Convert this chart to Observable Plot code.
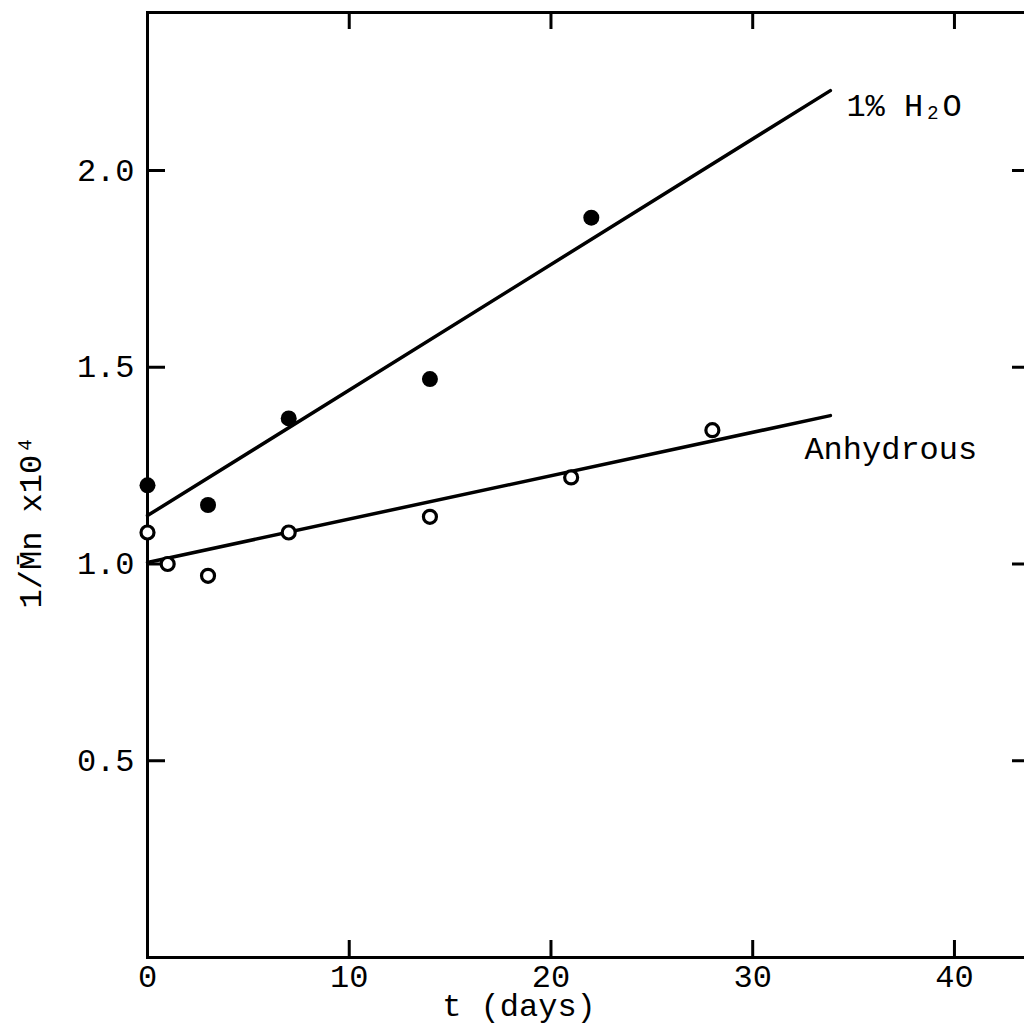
<!DOCTYPE html>
<html>
<head>
<meta charset="utf-8">
<script src="https://cdn.jsdelivr.net/npm/d3@7"></script>
<script src="https://cdn.jsdelivr.net/npm/@observablehq/plot@0.6"></script>
<style>
  html, body { margin: 0; padding: 0; background: #fff; overflow: hidden; }
  #chart svg { display: block; }
</style>
</head>
<body>
<div id="chart"></div>
<script>
// Measured degradation: 1/Mn (x10^4) against storage time
const daysWet = [0, 3, 7, 14, 22];
const valuesWet = [1.20, 1.15, 1.37, 1.47, 1.88];

const daysDry = [0, 1, 3, 7, 14, 21, 28];
const valuesDry = [1.08, 1.00, 0.97, 1.08, 1.12, 1.22, 1.34];

// Fitted straight lines (end points)
const fitDays = [0, 33.85];
const fitWet = [1.123, 2.203];
const fitDry = [1.004, 1.377];

const seriesNames = ["1% H\u2082O", "Anhydrous"];
const xTicks = [0, 10, 20, 30, 40];
const yTicks = [0.5, 1.0, 1.5, 2.0];
const xLabel = "t (days)";
const yLabel = "1/M\u0304n x10\u2074";

const wetPts = daysWet.map((d, i) => ({t: d, v: valuesWet[i]}));
const dryPts = daysDry.map((d, i) => ({t: d, v: valuesDry[i]}));
const wetLine = fitDays.map((d, i) => ({t: d, v: fitWet[i]}));
const dryLine = fitDays.map((d, i) => ({t: d, v: fitDry[i]}));

const font = "'Courier New', 'Liberation Mono', monospace";

const chart = Plot.plot({
  width: 1040,
  height: 1026,
  marginLeft: 147,
  marginRight: 10,
  marginTop: 12,
  marginBottom: 69,
  style: {fontFamily: font, fontSize: "32px", color: "#000", background: "#fff", maxWidth: "none"},
  x: {domain: [0, 43.77]},
  y: {domain: [0, 2.4015]},
  marks: [
    Plot.frame({stroke: "#000", strokeWidth: 3}),
    // inward ticks on all four sides
    Plot.ruleX(xTicks.filter(d => d > 0), {x: d => d, insetTop: 928, stroke: "#000", strokeWidth: 3}),
    Plot.ruleX(xTicks.filter(d => d > 0), {x: d => d, insetBottom: 928, stroke: "#000", strokeWidth: 3}),
    Plot.ruleY(yTicks, {y: d => d, insetRight: 865, stroke: "#000", strokeWidth: 3}),
    Plot.ruleY(yTicks, {y: d => d, insetLeft: 865, stroke: "#000", strokeWidth: 3}),
    Plot.axisX(xTicks, {tickSize: 0, tickPadding: 7, label: null, fontSize: 32}),
    Plot.axisY(yTicks, {tickSize: 0, tickPadding: 13, tickFormat: d3.format(".1f"), label: null, fontSize: 32}),
    // fitted lines
    Plot.line(wetLine, {x: "t", y: "v", stroke: "#000", strokeWidth: 3.5}),
    Plot.line(dryLine, {x: "t", y: "v", stroke: "#000", strokeWidth: 3.5}),
    // measurements
    Plot.dot(wetPts, {x: "t", y: "v", r: 8, fill: "#000", stroke: "none"}),
    Plot.dot(dryPts, {x: "t", y: "v", r: 6.5, fill: "#fff", stroke: "#000", strokeWidth: 3.2}),
    // series labels next to line ends
    Plot.text([wetLine[1]], {x: "t", y: "v", text: () => seriesNames[0], textAnchor: "start", dx: 16, dy: 15, fontSize: 32, fill: "#000"}),
    Plot.text([dryLine[1]], {x: "t", y: "v", text: () => seriesNames[1], textAnchor: "start", dx: -26, dy: 33, fontSize: 32, fill: "#000"}),
    // axis titles
    Plot.text([xLabel], {frameAnchor: "bottom", text: d => d, textAnchor: "middle", lineAnchor: "middle", dx: -70, dy: 48, fontSize: 32, fill: "#000"}),
    Plot.text([yLabel], {frameAnchor: "left", text: d => d, textAnchor: "middle", lineAnchor: "middle", rotate: -90, dx: -117, dy: 37, fontSize: 32, fill: "#000"})
  ]
});

document.getElementById("chart").appendChild(chart);
</script>
</body>
</html>
